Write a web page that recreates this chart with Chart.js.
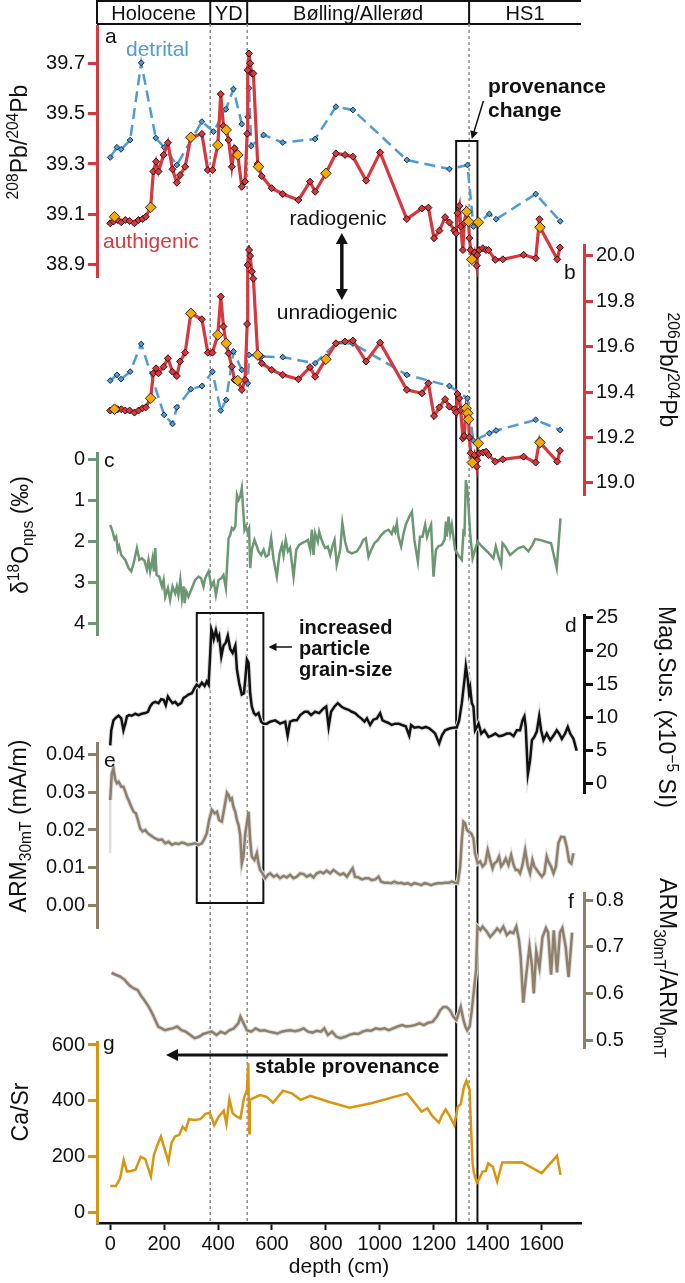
<!DOCTYPE html>
<html>
<head>
<meta charset="utf-8">
<script src="https://cdn.jsdelivr.net/npm/chart.js@4.4.1/dist/chart.umd.min.js"></script>
<style>
  body { margin: 0; background: #fff; }
  #page { position: relative; width: 685px; height: 1283px; overflow: hidden;
          font-family: "Liberation Sans", Arial, Helvetica, sans-serif; color: #111; }
  .panel { position: absolute; left: 0; width: 685px; }
  .txt { position: absolute; white-space: nowrap; line-height: 1; font-size: 21px; }
  .bold { font-weight: bold; }
  .title { position: absolute; white-space: nowrap; line-height: 1; font-size: 23px; }
  sup, sub { font-size: 0.68em; line-height: 0; }
</style>
</head>
<body>
<div id="page"></div>
<script>
// shared depth axis (cm)
const depthMin = -49;
const depthMax = 1746;
const depthTicks = [0, 200, 400, 600, 800, 1000, 1200, 1400, 1600];

// climate periods and their boundaries (cm)
const periods = ["Holocene", "YD", "Bølling/Allerød", "HS1"];
const boundaries = [371, 508, 1331];

// a) 208Pb/204Pb, detrital fraction
const detritalDepthA = [0, 25, 40, 74, 115, 169, 200, 247, 340, 383, 429, 457, 488, 510, 515, 523, 569, 640, 760, 837,
  900, 1100, 1258, 1325, 1347, 1406, 1431, 1578, 1669];
const detritalPb208 = [39.326, 39.366, 39.358, 39.395, 39.701, 39.403, 39.366, 39.296, 39.468, 39.428, 39.517, 39.597, 39.458, 39.487, 39.60, 39.371, 39.415, 39.385, 39.399, 39.527,
  39.514, 39.316, 39.28, 39.296, 39.052, 39.102, 39.081, 39.181, 39.073];

// b) 206Pb/204Pb, detrital fraction
const detritalDepthB = [0, 25, 40, 74, 115, 200, 231, 247, 299, 340, 379, 410, 430, 457, 488, 510, 515, 562, 640, 760,
  837, 900, 1100, 1258, 1325, 1347, 1406, 1431, 1578, 1669];
const detritalPb206 = [19.451, 19.476, 19.457, 19.49, 19.612, 19.30, 19.26, 19.333, 19.413, 19.427, 19.49, 19.319, 19.366, 19.579, 19.498, 19.439, 19.564, 19.557, 19.554, 19.527,
  19.615, 19.614, 19.476, 19.427, 19.373, 19.186, 19.219, 19.231, 19.278, 19.233];

// a) + b) authigenic fraction (same samples)
const authDepth = [0, 12, 28, 41, 56, 72, 90, 105, 120, 132,
  150, 160, 170, 179, 198, 214, 231, 247, 259, 278,
  299, 340, 362, 379, 399, 410, 420, 430, 439, 451,
  461, 473, 488, 500, 508, 510, 515, 519, 525, 531,
  547, 550, 562, 599, 640, 698, 741, 760, 800, 837,
  871, 900, 949, 1001, 1100, 1156, 1180, 1201, 1221, 1242,
  1258, 1276, 1283, 1288, 1295, 1300, 1308, 1313, 1320, 1329,
  1332, 1337, 1343, 1351, 1359, 1361, 1369, 1382, 1394, 1403,
  1428, 1456, 1533, 1578, 1592, 1594, 1658, 1668];
const authPb208 = [39.065, 39.072, 39.078, 39.069, 39.078, 39.074, 39.065, 39.078, 39.082, 39.091,
  39.128, 39.270, 39.309, 39.270, 39.336, 39.384, 39.279, 39.226, 39.256, 39.289,
  39.406, 39.419, 39.276, 39.276, 39.375, 39.577, 39.45, 39.435, 39.395, 39.289,
  39.362, 39.336, 39.21, 39.23, 39.42, 39.672, 39.738, 39.699, 39.659, 39.659,
  39.3, 39.289, 39.252, 39.204, 39.181, 39.157, 39.23, 39.19, 39.263, 39.342,
  39.336, 39.329, 39.234, 39.346, 39.082, 39.124, 39.127, 39.006, 39.036, 39.089,
  39.068, 39.036, 39.025, 39.105, 39.134, 39.052, 38.959, 39.065, 39.111, 39.072,
  39.006, 38.959, 38.922, 38.949, 38.897, 38.939, 38.959, 38.966, 38.959, 38.959,
  38.920, 38.922, 38.940, 38.926, 39.081, 39.049, 38.922, 38.969];
const authPb206 = [19.319, 19.325, 19.325, 19.325, 19.319, 19.319, 19.31, 19.319, 19.329, 19.333,
  19.373, 19.483, 19.505, 19.483, 19.512, 19.549, 19.49, 19.471, 19.535, 19.574,
  19.747, 19.721, 19.574, 19.574, 19.652, 19.821, 19.689, 19.615, 19.571, 19.512,
  19.454, 19.451, 19.41, 19.454, 19.7, 19.96, 20.026, 20.0, 19.931, 19.90,
  19.564, 19.557, 19.527, 19.498, 19.476, 19.457, 19.51, 19.468, 19.545, 19.615,
  19.623, 19.627, 19.535, 19.618, 19.41, 19.395, 19.439, 19.295, 19.333, 19.369,
  19.336, 19.325, 19.31, 19.392, 19.373, 19.322, 19.197, 19.207, 19.329, 19.285,
  19.201, 19.131, 19.09, 19.123, 19.072, 19.10, 19.131, 19.134, 19.138, 19.123,
  19.094, 19.104, 19.116, 19.09, 19.186, 19.178, 19.094, 19.142];

// highlighted authigenic samples (orange diamonds)
const markedDepthA = [16, 150, 299, 399, 430, 473, 550, 800, 1322, 1329, 1341, 1365, 1594];
const markedPb208 = [39.091, 39.128, 39.406, 39.375, 39.435, 39.336, 39.289, 39.263, 39.111, 39.072, 38.922, 39.069, 39.049];
const markedDepthB = [16, 150, 299, 399, 430, 473, 547, 800, 1320, 1326, 1329, 1343, 1365, 1594];
const markedPb206 = [19.325, 19.373, 19.747, 19.652, 19.615, 19.451, 19.564, 19.545, 19.329, 19.307, 19.28, 19.09, 19.175, 19.178];

// c) d18O nps (permil)
const d18ODepth = [0, 9, 16, 22, 28, 33, 41, 56, 68, 78,
  87, 99, 108, 117, 127, 136, 142, 148, 157, 162,
  167, 172, 182, 192, 198, 204, 214, 222, 231, 241,
  247, 253, 260, 266, 272, 276, 282, 290, 303, 315,
  328, 337, 346, 352, 365, 375, 384, 392, 402, 412,
  420, 429, 439, 445, 451, 457, 464, 470, 476, 482,
  488, 492, 498, 503, 509, 515, 519, 525, 535, 544,
  550, 560, 569, 577, 587, 597, 606, 618, 628, 637,
  643, 651, 659, 667, 680, 690, 701, 711, 723, 733,
  742, 748, 754, 760, 770, 775, 782, 791, 797, 807,
  816, 824, 832, 840, 853, 861, 871, 881, 896, 915,
  927, 939, 948, 958, 968, 980, 993, 1005, 1017, 1032,
  1044, 1051, 1057, 1063, 1069, 1079, 1088, 1096, 1109, 1119,
  1128, 1141, 1149, 1158, 1168, 1175, 1183, 1190, 1199, 1208,
  1217, 1230, 1240, 1245, 1248, 1255, 1261, 1267, 1279, 1294,
  1304, 1310, 1314, 1319, 1326, 1335, 1344, 1353, 1363, 1378,
  1391, 1405, 1421, 1430, 1440, 1450, 1455, 1465, 1483, 1499,
  1514, 1533, 1551, 1566, 1576, 1594, 1613, 1635, 1656, 1670];
const d18O = [1.59, 1.76, 1.94, 1.88, 2.20, 2.11, 2.33, 2.45, 2.65, 2.73,
  2.53, 2.16, 2.45, 2.41, 2.47, 2.69, 2.45, 2.73, 2.41, 2.73,
  2.16, 2.82, 2.86, 3.10, 2.94, 3.35, 3.14, 3.43, 3.10, 3.27,
  3.10, 3.31, 2.94, 3.39, 3.10, 3.51, 3.22, 3.35, 3.14, 2.94,
  2.86, 2.90, 3.10, 2.90, 2.73, 3.10, 2.98, 3.31, 2.94, 2.90,
  2.82, 3.14, 1.92, 1.84, 1.67, 1.71, 1.63, 0.86, 0.98, 0.90,
  0.69, 1.10, 1.71, 1.63, 1.76, 1.67, 2.65, 2.20, 1.96, 2.12,
  2.24, 2.33, 2.20, 2.37, 2.33, 1.92, 2.45, 2.86, 2.29, 2.08,
  2.33, 1.96, 2.24, 2.16, 2.86, 2.20, 2.08, 2.04, 2.00, 1.96,
  2.20, 1.71, 2.33, 1.80, 2.00, 1.76, 1.92, 2.08, 2.16, 2.12,
  2.33, 2.12, 1.96, 2.57, 2.20, 1.55, 2.00, 2.24, 2.29, 2.24,
  2.12, 1.96, 1.92, 2.37, 2.20, 2.04, 1.96, 1.84, 1.76, 1.71,
  1.81, 1.67, 1.76, 1.55, 1.88, 2.12, 1.80, 1.59, 1.39, 1.27,
  1.96, 2.49, 1.88, 1.88, 1.59, 1.88, 1.71, 1.59, 2.86, 2.20,
  2.12, 2.08, 1.96, 1.51, 1.88, 1.39, 1.80, 1.59, 2.20, 2.37,
  2.45, 1.76, 1.80, 0.49, 0.82, 1.80, 2.41, 2.20, 2.00, 2.12,
  2.20, 2.29, 2.41, 2.12, 2.37, 2.57, 2.04, 2.12, 2.33, 2.24,
  2.16, 2.12, 2.24, 2.08, 1.94, 1.96, 2.00, 2.04, 2.65, 1.43];

// d) magnetic susceptibility (x10^-5 SI)
const magDepth = [0, 4, 12, 21, 31, 41, 49, 56, 62, 70,
  80, 93, 105, 117, 130, 140, 148, 157, 167, 179,
  189, 198, 206, 214, 222, 231, 241, 251, 263, 272,
  281, 290, 303, 313, 321, 330, 340, 350, 358, 365,
  371, 375, 379, 384, 392, 399, 404, 412, 420, 429,
  436, 445, 454, 464, 470, 478, 488, 496, 501, 507,
  513, 519, 525, 533, 540, 550, 560, 569, 581, 593,
  612, 630, 649, 658, 667, 680, 692, 705, 721, 733,
  745, 760, 775, 791, 801, 810, 819, 832, 844, 857,
  869, 884, 896, 908, 921, 931, 943, 952, 964, 976,
  989, 1001, 1010, 1020, 1032, 1044, 1057, 1069, 1082, 1096,
  1109, 1116, 1128, 1143, 1156, 1170, 1183, 1195, 1205, 1220,
  1230, 1242, 1261, 1277, 1285, 1294, 1304, 1314, 1319, 1326,
  1331, 1335, 1341, 1347, 1353, 1360, 1366, 1376, 1388, 1403,
  1415, 1428, 1442, 1455, 1471, 1483, 1496, 1508, 1520, 1529,
  1536, 1541, 1549, 1557, 1564, 1573, 1582, 1591, 1598, 1607,
  1619, 1632, 1644, 1656, 1665, 1675, 1687, 1697, 1706, 1718,
  1730];
const magSus = [5.7, 8.0, 9.5, 9.9, 10.2, 9.8, 8.0, 9.0, 10.1, 10.3,
  10.2, 10.5, 10.3, 10.5, 10.6, 10.8, 11.6, 12.1, 12.3, 12.1,
  12.7, 12.6, 11.8, 13.1, 12.6, 12.1, 12.3, 11.8, 12.1, 12.9,
  13.1, 13.4, 13.6, 14.4, 14.9, 14.6, 15.2, 14.7, 15.4, 14.9,
  19.7, 23.3, 22.8, 21.8, 23.1, 21.8, 22.3, 19.2, 20.8, 21.3,
  22.3, 20.3, 19.7, 20.8, 17.2, 15.2, 13.4, 13.6, 15.7, 18.7,
  18.2, 13.6, 11.6, 10.6, 10.3, 10.6, 9.3, 9.0, 9.0, 9.3,
  9.5, 9.0, 9.3, 7.2, 9.3, 9.5, 9.5, 10.3, 10.8, 10.8,
  10.3, 10.8, 10.6, 11.3, 11.6, 8.5, 10.8, 11.6, 12.1, 11.6,
  11.3, 11.1, 10.8, 10.6, 10.1, 9.8, 9.3, 9.8, 8.8, 9.6,
  9.8, 10.6, 9.5, 9.3, 9.1, 8.8, 9.0, 9.0, 8.8, 8.6,
  7.2, 8.8, 8.4, 8.5, 8.3, 8.5, 8.3, 7.9, 7.5, 6.0,
  7.2, 8.0, 8.3, 8.4, 8.4, 9.5, 12.1, 15.7, 17.7, 15.7,
  13.6, 14.4, 12.1, 11.6, 8.0, 8.5, 9.0, 7.5, 8.0, 7.0,
  7.2, 7.5, 7.1, 7.2, 7.5, 7.5, 7.1, 8.0, 8.0, 9.5,
  10.1, 8.5, 1.4, 3.4, 6.5, 7.0, 7.8, 10.1, 8.0, 6.5,
  7.5, 6.5, 7.2, 8.0, 7.5, 6.7, 7.5, 8.5, 7.5, 6.7,
  4.9];

// e) ARM 30mT (mA/m)
const armDepth = [0, 6, 12, 19, 25, 31, 41, 49, 56, 62,
  68, 78, 87, 95, 103, 111, 120, 130, 140, 148,
  157, 167, 179, 192, 204, 216, 229, 241, 253, 266,
  276, 288, 303, 315, 328, 340, 350, 358, 367, 377,
  387, 396, 404, 414, 424, 433, 439, 445, 451, 457,
  464, 470, 476, 482, 488, 494, 501, 507, 513, 519,
  525, 535, 544, 550, 556, 565, 575, 585, 593, 606,
  618, 630, 643, 655, 667, 680, 692, 705, 717, 729,
  742, 754, 766, 779, 791, 803, 816, 828, 840, 853,
  865, 878, 890, 899, 908, 921, 933, 946, 958, 970,
  983, 995, 1005, 1017, 1030, 1042, 1054, 1067, 1079, 1091,
  1104, 1116, 1128, 1141, 1153, 1166, 1178, 1190, 1203, 1215,
  1230, 1242, 1255, 1267, 1279, 1289, 1298, 1304, 1310, 1316,
  1323, 1329, 1339, 1347, 1353, 1363, 1372, 1381, 1391, 1400,
  1409, 1418, 1425, 1434, 1442, 1450, 1458, 1467, 1477, 1487,
  1496, 1504, 1512, 1520, 1529, 1539, 1549, 1557, 1566, 1573,
  1582, 1591, 1601, 1610, 1619, 1625, 1635, 1644, 1653, 1662,
  1672, 1684, 1693, 1702, 1710, 1718];
const arm30 = [0.0279, 0.0349, 0.0362, 0.0332, 0.0323, 0.0327, 0.0314, 0.0314, 0.0301, 0.0288,
  0.0279, 0.0261, 0.0248, 0.0244, 0.0226, 0.0204, 0.0196, 0.0200, 0.0191, 0.0187,
  0.0182, 0.0178, 0.0174, 0.0175, 0.0165, 0.0169, 0.0161, 0.0165, 0.0163, 0.0167,
  0.0165, 0.0161, 0.0163, 0.0165, 0.0161, 0.0165, 0.0178, 0.0191, 0.0226, 0.0253,
  0.0244, 0.0248, 0.0226, 0.0222, 0.0261, 0.0298, 0.0292, 0.0279, 0.0283, 0.0261,
  0.0248, 0.0226, 0.0213, 0.0187, 0.0112, 0.0130, 0.0191, 0.0218, 0.0248, 0.0174,
  0.0130, 0.0121, 0.0139, 0.0112, 0.0095, 0.0086, 0.0073, 0.0082, 0.0086, 0.0077,
  0.0082, 0.0073, 0.0079, 0.0075, 0.0082, 0.0073, 0.0077, 0.0086, 0.0084, 0.0077,
  0.0082, 0.0075, 0.0086, 0.0090, 0.0086, 0.0093, 0.0086, 0.0095, 0.0088, 0.0082,
  0.0086, 0.0077, 0.0090, 0.0099, 0.0077, 0.0075, 0.0070, 0.0073, 0.0073, 0.0068,
  0.0070, 0.0077, 0.0064, 0.0061, 0.0061, 0.0060, 0.0064, 0.0060, 0.0061, 0.0058,
  0.0060, 0.0055, 0.0060, 0.0058, 0.0055, 0.0060, 0.0058, 0.0055, 0.0058, 0.0060,
  0.0060, 0.0061, 0.0061, 0.0064, 0.0061, 0.0060, 0.0104, 0.0174, 0.0222, 0.0218,
  0.0200, 0.0196, 0.0191, 0.0178, 0.0139, 0.0112, 0.0117, 0.0104, 0.0112, 0.0147,
  0.0121, 0.0099, 0.0112, 0.0117, 0.0130, 0.0104, 0.0112, 0.0125, 0.0108, 0.0134,
  0.0108, 0.0095, 0.0095, 0.0086, 0.0108, 0.0147, 0.0104, 0.0086, 0.0121, 0.0104,
  0.0095, 0.0086, 0.0077, 0.0086, 0.0130, 0.0117, 0.0104, 0.0086, 0.0104, 0.0165,
  0.0182, 0.0181, 0.0156, 0.0117, 0.0112, 0.0139];
// raw ARM reading at the core top (light grey spike)
const armRawDepth = [0, 0];
const armRaw = [0.0139, 0.0279];

// f) ARM30mT / ARM0mT
const ratioDepth = [5, 16, 37, 54, 70, 86, 102, 113, 126, 143,
  156, 167, 178, 191, 204, 215, 232, 248, 264, 280,
  297, 313, 329, 345, 361, 377, 394, 410, 426, 442,
  458, 475, 483, 492, 507, 523, 539, 556, 572, 588,
  604, 620, 636, 653, 669, 685, 701, 717, 734, 750,
  766, 782, 794, 807, 823, 839, 855, 871, 887, 904,
  920, 936, 952, 968, 985, 1001, 1017, 1033, 1049, 1066,
  1082, 1098, 1114, 1130, 1147, 1163, 1179, 1195, 1211, 1224,
  1236, 1247, 1260, 1273, 1284, 1292, 1300, 1309, 1317, 1324,
  1333, 1341, 1349, 1357, 1362, 1373, 1381, 1397, 1409, 1422,
  1435, 1446, 1458, 1471, 1483, 1495, 1506, 1516, 1522, 1532,
  1543, 1555, 1564, 1571, 1580, 1592, 1603, 1616, 1624, 1635,
  1645, 1657, 1668, 1677, 1689, 1700, 1713];
const armRatio = [0.644, 0.641, 0.636, 0.629, 0.618, 0.611, 0.607, 0.596, 0.586, 0.571,
  0.557, 0.543, 0.529, 0.525, 0.521, 0.523, 0.525, 0.529, 0.521, 0.518,
  0.511, 0.504, 0.507, 0.513, 0.516, 0.518, 0.511, 0.518, 0.514, 0.521,
  0.525, 0.536, 0.550, 0.539, 0.521, 0.518, 0.525, 0.520, 0.521, 0.518,
  0.516, 0.514, 0.518, 0.520, 0.521, 0.519, 0.521, 0.525, 0.518, 0.516,
  0.520, 0.518, 0.525, 0.511, 0.518, 0.507, 0.504, 0.507, 0.511, 0.514,
  0.513, 0.518, 0.521, 0.520, 0.525, 0.523, 0.525, 0.521, 0.525, 0.529,
  0.532, 0.529, 0.530, 0.532, 0.536, 0.532, 0.537, 0.539, 0.550, 0.564,
  0.571, 0.571, 0.564, 0.550, 0.543, 0.557, 0.571, 0.546, 0.529, 0.521,
  0.529, 0.564, 0.607, 0.650, 0.743, 0.736, 0.743, 0.732, 0.721, 0.729,
  0.739, 0.732, 0.743, 0.725, 0.732, 0.729, 0.743, 0.714, 0.680, 0.580,
  0.640, 0.700, 0.660, 0.600, 0.690, 0.655, 0.720, 0.740, 0.730, 0.640,
  0.735, 0.645, 0.730, 0.740, 0.700, 0.635, 0.730];

// g) Ca/Sr
const caDepth = [0, 21, 37, 50, 62, 78, 94, 113, 130, 151,
  162, 175, 188, 216, 227, 240, 256, 269, 280, 292,
  313, 334, 353, 369, 386, 402, 421, 431, 442, 454,
  470, 483, 496, 507, 512, 515, 518, 531, 556, 580,
  604, 641, 674, 706, 742, 807, 887, 968, 1101, 1155,
  1176, 1195, 1219, 1231, 1244, 1260, 1276, 1289, 1300, 1312,
  1321, 1333, 1337, 1344, 1349, 1360, 1370, 1381, 1393, 1402,
  1419, 1435, 1454, 1527, 1600, 1657, 1670];
const caSr = [96, 96, 124, 189, 148, 150, 154, 201, 192, 130,
  207, 243, 273, 183, 249, 273, 279, 308, 296, 335,
  332, 335, 354, 358, 314, 344, 365, 318, 406, 356,
  344, 338, 410, 439, 535, 285, 404, 410, 421, 415,
  394, 437, 427, 404, 418, 398, 376, 392, 427, 362,
  374, 346, 323, 350, 370, 344, 314, 380, 389, 451,
  472, 439, 332, 177, 142, 108, 124, 148, 150, 177,
  165, 112, 180, 181, 142, 204, 136];

// y tick labels of each panel
const ticksA = [38.9, 39.1, 39.3, 39.5, 39.7];
const ticksB = [19.0, 19.2, 19.4, 19.6, 19.8, 20.0];
const ticksC = [0, 1, 2, 3, 4];
const ticksD = [0, 5, 10, 15, 20, 25];
const ticksE = [0, 0.01, 0.02, 0.03, 0.04];
const ticksF = [0.5, 0.6, 0.7, 0.8];
const ticksG = [0, 200, 400, 600];

// colours
const RED = "#d7373d";
const BLUE = "#4d9bd8";
const GOLD = "#f4aa00";
const GREEN = "#6b9872";
const BROWN = "#8e7f69";
const ORANGE = "#d9950f";
const HALO = "#dedede";
const INK = "#111";
const FONT = '"Liberation Sans", Arial, Helvetica, sans-serif';

Chart.defaults.font.family = FONT;
Chart.defaults.color = INK;

const page = document.getElementById("page");
const plotLeft = 97;
const plotRight = 581;
const pxPerCm = (plotRight - plotLeft) / (depthMax - depthMin);

function toXY(xs, ys) {
  return xs.map((x, i) => ({ x: x, y: ys[i] }));
}

function lineSet(xs, ys, color, width, extra) {
  return Object.assign({
    data: toXY(xs, ys), showLine: true, borderColor: color, borderWidth: width,
    pointRadius: 0, tension: 0
  }, extra || {});
}

function diamonds(xs, ys, fill, r) {
  return {
    data: toXY(xs, ys), showLine: false, pointStyle: "rectRot", pointRadius: r,
    backgroundColor: fill, borderColor: "#2b2b2b", borderWidth: 1
  };
}

// one chart per panel, stacked on the page; all share the same depth scale
function makePanel(p) {
  const pad = 16;
  const isRight = p.side === "right";
  const axisX = isRight ? 584 : plotLeft;
  const xMax = isRight ? depthMin + (axisX - plotLeft) / pxPerCm : depthMax;
  const top = p.top - pad;
  const bottom = p.xAxis ? 1283 : p.bottom + pad;
  const box = document.createElement("div");
  box.className = "panel";
  box.style.top = top + "px";
  box.style.height = (bottom - top) + "px";
  const cv = document.createElement("canvas");
  box.appendChild(cv);
  page.appendChild(box);

  return new Chart(cv, {
    type: "scatter",
    data: { datasets: p.datasets },
    options: {
      responsive: true,
      maintainAspectRatio: false,
      animation: false,
      devicePixelRatio: 1,
      events: [],
      layout: {
        padding: {
          left: isRight ? plotLeft : 0,
          right: isRight ? 0 : 685 - plotRight,
          top: pad,
          bottom: p.xAxis ? 0 : pad
        }
      },
      plugins: { legend: { display: false }, tooltip: { enabled: false } },
      scales: {
        x: {
          type: "linear",
          min: depthMin,
          max: xMax,
          display: !!p.xAxis,
          afterBuildTicks: s => { s.ticks = depthTicks.map(v => ({ value: v })); },
          afterFit: s => {
            if (p.xAxis) s.height = 60;
            s.paddingLeft = 0;
            s.paddingRight = 0;
          },
          grid: { display: true, drawOnChartArea: false, drawTicks: true, tickLength: 7, tickWidth: 2, tickColor: INK },
          border: { display: true, color: INK, width: 2.5 },
          ticks: { color: INK, font: { size: 20 }, padding: 2, maxRotation: 0, autoSkip: false, callback: v => String(v) },
          title: { display: true, text: "depth (cm)", color: INK, font: { size: 21 }, padding: { top: 0, bottom: 3 } }
        },
        y: {
          type: "linear",
          position: p.side,
          min: p.min,
          max: p.max,
          reverse: !!p.reverse,
          afterBuildTicks: s => { s.ticks = p.ticks.map(v => ({ value: v })); },
          afterFit: s => {
            s.width = isRight ? 685 - axisX : plotLeft;
            s.paddingTop = 0;
            s.paddingBottom = 0;
          },
          grid: { display: true, drawOnChartArea: false, drawTicks: true, tickLength: 9, tickWidth: 3, tickColor: p.color },
          border: { display: true, color: p.color, width: 3 },
          ticks: {
            color: INK, font: { size: 20 }, padding: 3, autoSkip: false,
            callback: v => Number(v).toFixed(p.decimals)
          }
        }
      }
    }
  });
}

// decoration layer: header boxes, period lines, highlight boxes and arrows
function arrowHead(ctx, x1, y1, x2, y2, len, half) {
  const a = Math.atan2(y2 - y1, x2 - x1);
  ctx.beginPath();
  ctx.moveTo(x2, y2);
  ctx.lineTo(x2 - len * Math.cos(a) - half * Math.sin(a), y2 - len * Math.sin(a) + half * Math.cos(a));
  ctx.lineTo(x2 - len * Math.cos(a) + half * Math.sin(a), y2 - len * Math.sin(a) - half * Math.cos(a));
  ctx.closePath();
  ctx.fill();
}

function arrow(ctx, x1, y1, x2, y2, w, len, half, both) {
  const a = Math.atan2(y2 - y1, x2 - x1);
  ctx.lineWidth = w;
  ctx.beginPath();
  ctx.moveTo(x1 + (both ? len * 0.8 * Math.cos(a) : 0), y1 + (both ? len * 0.8 * Math.sin(a) : 0));
  ctx.lineTo(x2 - len * 0.8 * Math.cos(a), y2 - len * 0.8 * Math.sin(a));
  ctx.stroke();
  arrowHead(ctx, x1, y1, x2, y2, len, half);
  if (both) arrowHead(ctx, x2, y2, x1, y1, len, half);
}

const decorPlugin = {
  id: "decor",
  afterDraw(chart) {
    const ctx = chart.ctx;
    const X = d => chart.scales.x.getPixelForValue(d);
    const Y = v => chart.scales.y.getPixelForValue(v);
    ctx.save();
    ctx.strokeStyle = INK;
    ctx.fillStyle = INK;

    // header band
    ctx.lineWidth = 2;
    ctx.beginPath();
    ctx.moveTo(X(depthMin), Y(1)); ctx.lineTo(X(depthMax), Y(1));
    ctx.moveTo(X(depthMin), Y(24)); ctx.lineTo(X(depthMax), Y(24));
    ctx.moveTo(X(depthMin), Y(0)); ctx.lineTo(X(depthMin), Y(24));
    boundaries.forEach(b => { ctx.moveTo(X(b), Y(0)); ctx.lineTo(X(b), Y(24)); });
    ctx.stroke();

    // period boundaries
    ctx.save();
    ctx.setLineDash([3, 3]);
    ctx.strokeStyle = "#8c8c8c";
    ctx.lineWidth = 1.5;
    ctx.beginPath();
    boundaries.forEach(b => { ctx.moveTo(X(b), Y(24)); ctx.lineTo(X(b), Y(1223)); });
    ctx.stroke();
    ctx.restore();

    // highlight boxes
    ctx.lineWidth = 2;
    ctx.strokeRect(X(321), Y(613), X(568) - X(321), Y(903) - Y(613));
    ctx.strokeRect(X(1283), Y(141), X(1362) - X(1283), Y(1223) - Y(141));

    // arrows
    arrow(ctx, X(1384), Y(101), X(1341), Y(139), 1.5, 8, 4, false);
    arrow(ctx, X(859), Y(233), X(859), Y(300), 3.5, 11, 6, true);
    arrow(ctx, X(674), Y(647), X(587), Y(647), 1.5, 8, 4, false);
    arrow(ctx, X(1252), Y(1055), X(207), Y(1055), 3, 12, 6, false);
    ctx.restore();
  }
};

const decorBox = document.createElement("div");
decorBox.className = "panel";
decorBox.style.top = "0px";
decorBox.style.height = "1283px";
const decorCanvas = document.createElement("canvas");
decorBox.appendChild(decorCanvas);
page.appendChild(decorBox);
const decor = new Chart(decorCanvas, {
  type: "scatter",
  data: { datasets: [] },
  options: {
    responsive: true, maintainAspectRatio: false, animation: false, devicePixelRatio: 1, events: [],
    layout: { padding: { left: plotLeft, right: 685 - plotRight, top: 0, bottom: 0 } },
    plugins: { legend: { display: false }, tooltip: { enabled: false } },
    scales: {
      x: { type: "linear", min: depthMin, max: depthMax, display: false },
      y: { type: "linear", min: 0, max: 1283, reverse: true, display: false }
    }
  },
  plugins: [decorPlugin]
});

const redMarks = { pointStyle: "rectRot", pointRadius: 3.5, backgroundColor: RED, pointBorderColor: "#2b1010", pointBorderWidth: 1 };
const blueMarks = { borderDash: [11, 6], pointStyle: "rectRot", pointRadius: 2.9, backgroundColor: BLUE, pointBorderColor: "#1b2a3a", pointBorderWidth: 1 };

// a) 208Pb/204Pb
makePanel({
  top: 26, bottom: 277, side: "left", color: RED, min: 38.852, max: 39.847, ticks: ticksA, decimals: 1,
  datasets: [
    diamonds(markedDepthA, markedPb208, GOLD, 5.3),
    lineSet(authDepth, authPb208, RED, 3.2, redMarks),
    lineSet(detritalDepthA, detritalPb208, BLUE, 2.5, blueMarks)
  ]
});

// b) 206Pb/204Pb
makePanel({
  top: 245, bottom: 495, side: "right", color: RED, min: 18.947, max: 20.048, ticks: ticksB, decimals: 1,
  datasets: [
    diamonds(markedDepthB, markedPb206, GOLD, 5.3),
    lineSet(authDepth, authPb206, RED, 3.2, redMarks),
    lineSet(detritalDepthB, detritalPb206, BLUE, 2.5, blueMarks)
  ]
});

// c) d18O
makePanel({
  top: 453, bottom: 635, side: "left", color: GREEN, min: -0.17, max: 4.29, reverse: true, ticks: ticksC, decimals: 0,
  datasets: [lineSet(d18ODepth, d18O, GREEN, 2.5)]
});

// d) magnetic susceptibility
makePanel({
  top: 615, bottom: 793, side: "right", color: INK, min: -1.5, max: 25.45, ticks: ticksD, decimals: 0,
  datasets: [
    lineSet(magDepth, magSus, INK, 2.5),
    lineSet(magDepth, magSus, HALO, 4.5)
  ]
});

// e) ARM 30mT
makePanel({
  top: 743, bottom: 928, side: "left", color: BROWN, min: -0.0058, max: 0.0429, ticks: ticksE, decimals: 2,
  datasets: [
    lineSet(armDepth, arm30, BROWN, 2.5),
    lineSet(armDepth, arm30, HALO, 4.5),
    lineSet(armRawDepth, armRaw, HALO, 2.5)
  ]
});

// f) ARM ratio
makePanel({
  top: 893, bottom: 1048, side: "right", color: BROWN, min: 0.483, max: 0.815, ticks: ticksF, decimals: 1,
  datasets: [
    lineSet(ratioDepth, armRatio, BROWN, 2.5),
    lineSet(ratioDepth, armRatio, HALO, 4.5)
  ]
});

// g) Ca/Sr with the depth axis
makePanel({
  top: 1042, bottom: 1223, side: "left", color: ORANGE, min: -36, max: 610.7, ticks: ticksG, decimals: 0, xAxis: true,
  datasets: [lineSet(caDepth, caSr, ORANGE, 2.5)]
});

// text layer
function addText(html, left, top, css, cls) {
  const el = document.createElement("div");
  el.className = cls || "txt";
  el.innerHTML = html;
  el.style.left = left + "px";
  el.style.top = top + "px";
  Object.assign(el.style, css || {});
  page.appendChild(el);
  return el;
}

// period names centred in the header cells
const xs = decor.scales.x;
const edges = [depthMin].concat(boundaries, [depthMax]);
periods.forEach((name, i) => {
  const cx = (xs.getPixelForValue(edges[i]) + xs.getPixelForValue(edges[i + 1])) / 2;
  addText(name, cx, 3, { fontSize: "20px", transform: "translateX(-50%)" });
});

// panel letters
[["a", 105, 25], ["b", 564, 261], ["c", 104, 449], ["d", 565, 614],
 ["e", 104, 749], ["f", 568, 890], ["g", 103, 1032]].forEach(l => addText(l[0], l[1], l[2]));

// series and annotation labels
addText("detrital", 126, 38, { color: BLUE });
addText("authigenic", 103, 230, { color: RED });
addText("radiogenic", 338, 207, { transform: "translateX(-50%)" });
addText("unradiogenic", 337, 301, { transform: "translateX(-50%)" });
addText("provenance", 488, 75, {}, "txt bold");
addText("change", 488, 99, {}, "txt bold");
addText("increased<br>particle<br>grain-size", 299, 617, { fontSize: "20px", lineHeight: "21px" }, "txt bold");
addText("stable provenance", 255, 1055, {}, "txt bold");

// axis titles
function addTitle(html, cx, cy, angle) {
  addText(html, cx, cy, { transform: "translate(-50%, -50%) rotate(" + angle + "deg)" }, "title");
}
addTitle("<sup>208</sup>Pb/<sup>204</sup>Pb", 19, 142, -90);
addTitle("δ<sup>18</sup>O<sub>nps</sub> (‰)", 20, 535, -90);
addTitle("ARM<sub>30mT</sub> (mA/m)", 18, 826, -90);
addTitle("Ca/Sr", 20, 1112, -90);
addTitle("<sup>206</sup>Pb/<sup>204</sup>Pb", 667, 370, 90);
addTitle("Mag.Sus. (x10<sup>−5</sup> SI)", 666, 707, 90);
addTitle("ARM<sub>30mT</sub>/ARM<sub>0mT</sub>", 667, 968, 90);
</script>
</body>
</html>
